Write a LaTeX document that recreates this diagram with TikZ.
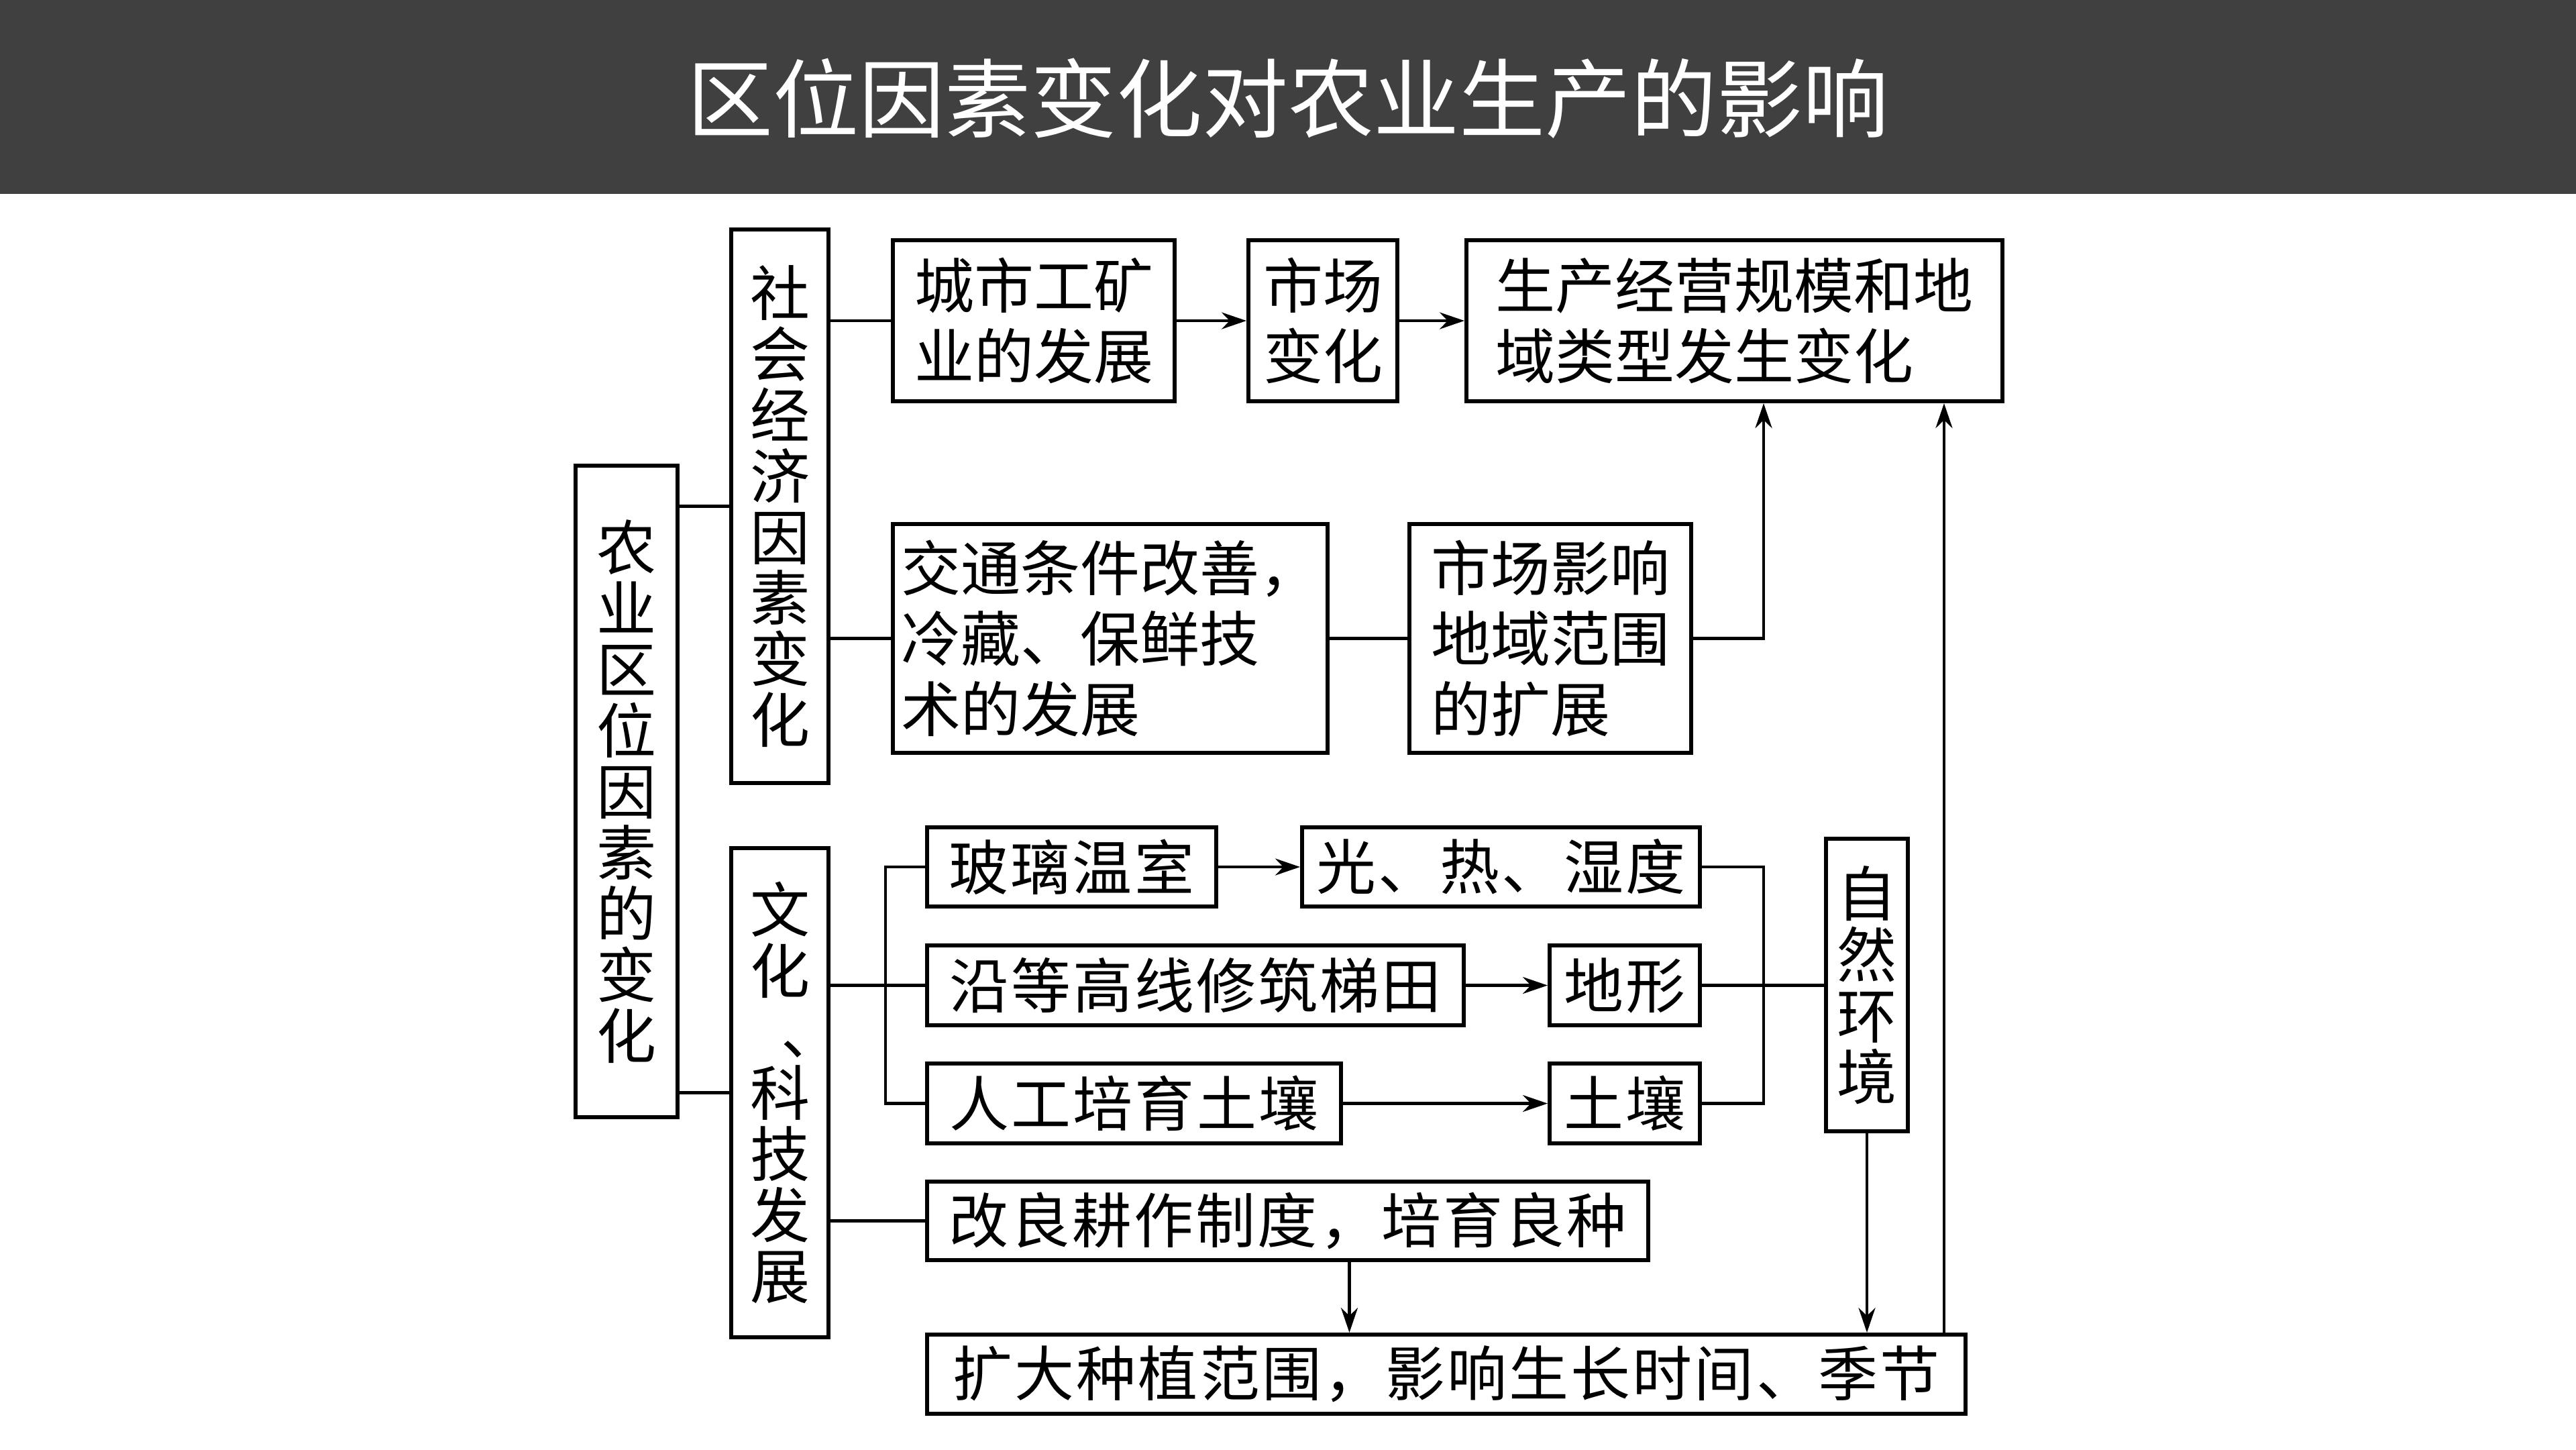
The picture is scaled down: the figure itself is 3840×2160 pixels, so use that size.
\documentclass[tikz,border=0pt]{standalone}
\usepackage{fontspec}
\setmainfont{Noto Sans CJK SC}
\newfontfamily\spacedfont[LetterSpace=3.5]{Noto Sans CJK SC}
\usetikzlibrary{arrows.meta}
\definecolor{bargray}{RGB}{64,64,64}
\lineskiplimit=-5pt
\newcommand{\vcomma}{\makebox[8.9pt][l]{\hspace{4.6pt}、}}
\begin{document}
\begin{tikzpicture}[x=0.1pt, y=-0.1pt, line width=0.45pt, >={Stealth[length=3.7pt,width=2.5pt]},
		box/.style={draw, line width=0.6pt, inner sep=0pt, align=left, font=\fontsize{8.9}{10.5}\selectfont},
		rowbox/.style={box, font=\fontsize{8.9}{10.5}\spacedfont},
		colbox/.style={draw, line width=0.6pt, inner sep=0pt, align=center, minimum width=14.5pt, font=\fontsize{8.9}{9.1}\selectfont}]
	\useasboundingbox (0,0) rectangle (3840,2160);
	\fill [bargray] (0,0) rectangle (3840,289);
	\node [text=white, font=\fontsize{12.8}{15}\selectfont] (title) at (1920,147) {区位因素变化对农业生产的影响};

	\node [colbox, minimum width=15.2pt, minimum height=97.1pt] (agri) at (934,1179.5) {农\\业\\区\\位\\因\\素\\的\\变\\化};
	\node [colbox, minimum height=82.5pt] (socio) at (1162.5,754.5) {社\\会\\经\\济\\因\\素\\变\\化};
	\node [colbox, minimum height=72.9pt] (culture) at (1162.5,1628.5) {文\\化\\\vcomma\\科\\技\\发\\展};
	\node [colbox, minimum width=12.2pt, minimum height=43.6pt] (nature) at (2783,1468) {自\\然\\环\\境};

	\node [box, minimum width=42pt, minimum height=24pt] (city) at (1541,478) {城市工矿\\业的发展};
	\node [box, minimum width=22.2pt, minimum height=24pt] (market) at (1972,478) {市场\\变化};
	\node [box, minimum width=79.9pt, minimum height=24pt] (scale) at (2585.5,478) {生产经营规模和地\\域类型发生变化};
	\node [box, minimum width=64.8pt, minimum height=34.1pt] (traffic) at (1655,951.5) {交通条件改善，\\冷藏、保鲜技\\术的发展};
	\node [box, minimum width=42pt, minimum height=34.1pt] (range) at (2311,951.5) {市场影响\\地域范围\\的扩展};

	\node [rowbox, minimum width=43.1pt, minimum height=11.8pt] (glass) at (1597.5,1292) {玻璃温室};
	\node [rowbox, minimum width=59.3pt, minimum height=11.8pt] (climate) at (2237.5,1292) {光、热、湿度};
	\node [rowbox, minimum width=80pt, minimum height=11.9pt] (terrace) at (1782,1468.5) {沿等高线修筑梯田};
	\node [rowbox, minimum width=22.4pt, minimum height=11.9pt] (terrain) at (2422,1468.5) {地形};
	\node [rowbox, minimum width=61.7pt, minimum height=11.9pt] (soilwork) at (1690.5,1644.5) {人工培育土壤};
	\node [rowbox, minimum width=22.4pt, minimum height=11.9pt] (soil) at (2422,1644.5) {土壤};
	\node [rowbox, minimum width=107.5pt, minimum height=11.7pt] (tillage) at (1919.5,1819.5) {改良耕作制度，培育良种};
	\node [rowbox, minimum width=154.8pt, minimum height=11.8pt] (expand) at (2156,2048) {扩大种植范围，影响生长时间、季节};

	\coordinate (fork) at (1320,1468.5);
	\coordinate (join) at (2629,1468.5);

	\draw (socio.west) -- (socio.west -| agri.east);
	\draw (culture.west) -- (culture.west -| agri.east);
	\draw (socio.east |- city.west) -- (city.west);
	\draw (socio.east |- traffic.west) -- (traffic.west);
	\draw [->] (city) -- (market);
	\draw [->] (market) -- (scale);
	\draw (traffic) -- (range);
	\draw [->] (range.east) -| (join |- scale.south);

	\draw (culture.east |- terrace.west) -- (terrace.west);
	\draw (glass.west) -| (fork) |- (soilwork.west);
	\draw (culture.east |- tillage.west) -- (tillage.west);
	\draw [->] (glass) -- (climate);
	\draw [->] (terrace) -- (terrain);
	\draw [->] (soilwork) -- (soil);
	\draw (climate.east) -| (join) |- (soil.east);
	\draw (terrain.east) -- (nature.west |- terrain.east);
	\draw [->] (nature.south) -- (nature.south |- expand.north);
	\draw [->] ([xshift=9.2pt]tillage.south) -- ([xshift=9.2pt]tillage.south |- expand.north);
	\draw [->] ([xshift=-3.5pt]expand.north east) -- ([xshift=-3.5pt]expand.north east |- scale.south);
\end{tikzpicture}
\end{document}
